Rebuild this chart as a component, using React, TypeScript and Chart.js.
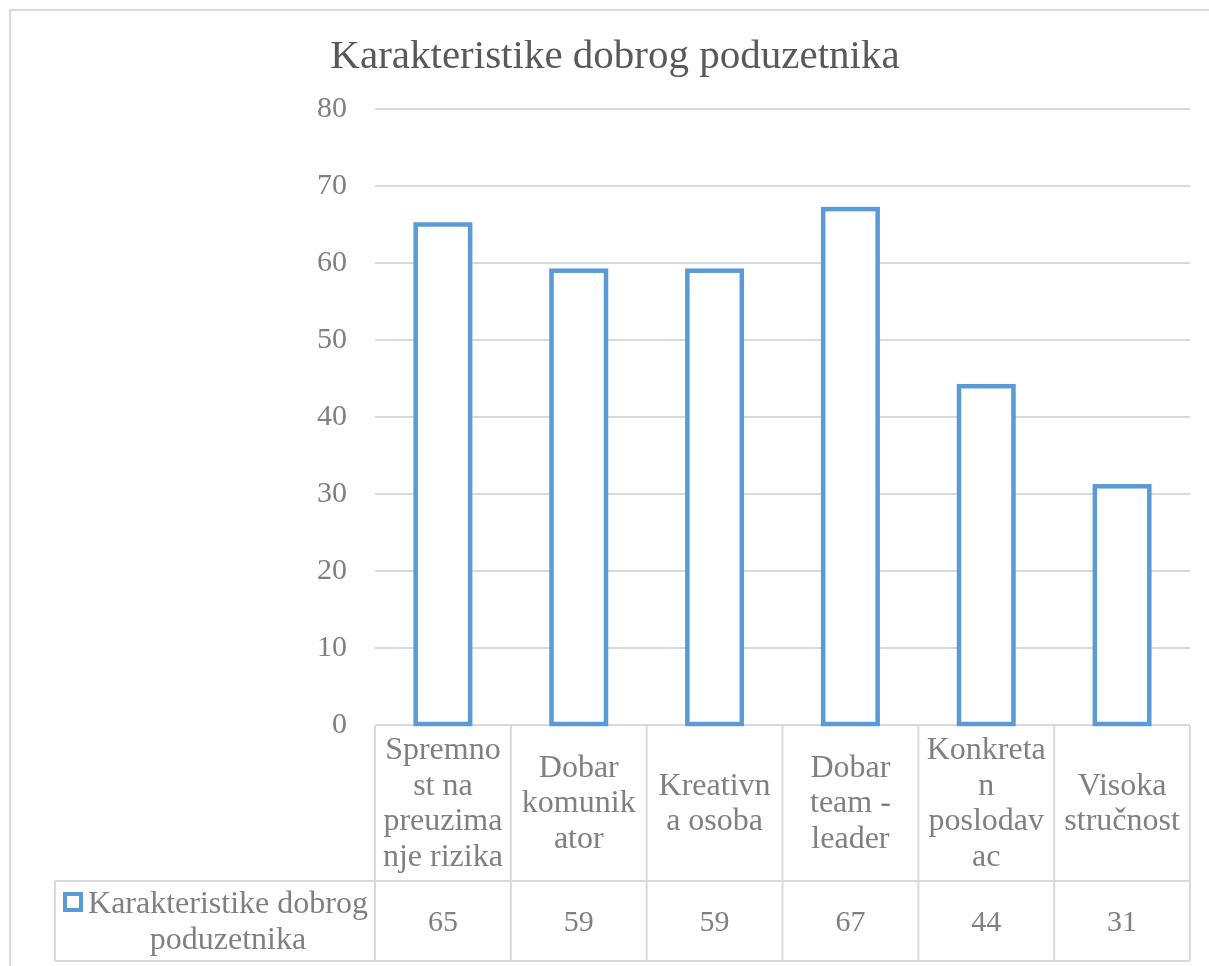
import React, { useEffect, useRef } from "react";
import { Chart, registerables } from "chart.js";

Chart.register(...registerables);

const TITLE = "Karakteristike dobrog poduzetnika";
const SERIES_NAME = "Karakteristike dobrog poduzetnika";
const CATEGORIES = [
  "Spremnost na preuzimanje rizika",
  "Dobar komunikator",
  "Kreativna osoba",
  "Dobar team - leader",
  "Konkretan poslodavac",
  "Visoka stručnost",
];
const CATEGORY_LINES = [
  ["Spremno", "st na", "preuzima", "nje rizika"],
  ["Dobar", "komunik", "ator"],
  ["Kreativn", "a osoba"],
  ["Dobar", "team -", "leader"],
  ["Konkreta", "n", "poslodav", "ac"],
  ["Visoka", "stručnost"],
];
const VALUES = [65, 59, 59, 67, 44, 31];
const LEGEND_LINES = ["Karakteristike dobrog", "poduzetnika"];
const Y_MIN = 0;
const Y_MAX = 80;
const Y_STEP = 10;

const FONT = "'Liberation Serif', 'Times New Roman', serif";
const BLUE = "#5B9BD5";
const GRID = "#D9D9D9";
const TEXT = "#808080";
const TITLE_COLOR = "#595959";

const barStrokePlugin = {
  id: "barStroke",
  afterDatasetsDraw(chart: any) {
    const { ctx } = chart;
    const meta = chart.getDatasetMeta(0);
    ctx.save();
    ctx.strokeStyle = BLUE;
    ctx.lineWidth = 4.5;
    meta.data.forEach((bar: any) => {
      const p = bar.getProps(["x", "y", "base", "width"], true);
      ctx.fillStyle = "#FFFFFF";
      ctx.fillRect(p.x - p.width / 2, p.y, p.width, p.base - p.y);
      ctx.strokeRect(p.x - p.width / 2, p.y, p.width, p.base - p.y);
    });
    ctx.restore();
  },
};

const tablePlugin = {
  id: "dataTable",
  afterDraw(chart: any) {
    const { ctx, chartArea } = chart;
    const xs = chart.scales.x;
    const n = CATEGORIES.length;
    const catW = (chartArea.right - chartArea.left) / n;
    const top = chartArea.bottom;
    const row1Bottom = top + 156;
    const row2Bottom = row1Bottom + 80;
    const legendLeft = 55;

    ctx.save();
    ctx.strokeStyle = GRID;
    ctx.lineWidth = 2;
    const line = (x1: number, y1: number, x2: number, y2: number) => {
      ctx.beginPath();
      ctx.moveTo(x1, y1);
      ctx.lineTo(x2, y2);
      ctx.stroke();
    };
    // outer chart border
    line(10, chart.height, 10, 10);
    line(10, 10, chart.width, 10);
    // table lines
    line(legendLeft, row1Bottom, chartArea.right, row1Bottom);
    line(legendLeft, row2Bottom, chartArea.right, row2Bottom);
    line(legendLeft, row1Bottom, legendLeft, row2Bottom);
    for (let i = 0; i <= n; i++) {
      const xi = chartArea.left + i * catW;
      line(xi, top + 1, xi, row2Bottom);
    }

    // title
    ctx.fillStyle = TITLE_COLOR;
    ctx.font = `41px ${FONT}`;
    ctx.textAlign = "center";
    ctx.textBaseline = "alphabetic";
    ctx.fillText(TITLE, 615, 68);

    // category labels
    ctx.fillStyle = TEXT;
    ctx.textBaseline = "middle";
    const lh = 35.5;
    const cy1 = (top + row1Bottom) / 2 + 1;
    const cy2 = (row1Bottom + row2Bottom) / 2 + 2;
    for (let i = 0; i < n; i++) {
      const cx = xs.getPixelForValue(i);
      const lines = CATEGORY_LINES[i];
      const start = cy1 - ((lines.length - 1) * lh) / 2;
      ctx.font = `32px ${FONT}`;
      lines.forEach((t, j) => ctx.fillText(t, cx, start + j * lh));
      ctx.font = `30px ${FONT}`;
      ctx.fillText(String(VALUES[i]), cx, cy2);
    }

    // legend key + series name
    ctx.strokeStyle = BLUE;
    ctx.lineWidth = 4;
    ctx.fillStyle = "#FFFFFF";
    ctx.fillRect(65, 894, 16, 16);
    ctx.strokeRect(65, 894, 16, 16);
    ctx.fillStyle = TEXT;
    ctx.font = `32px ${FONT}`;
    const lcx = 228;
    const lstart = cy2 - 18;
    LEGEND_LINES.forEach((t, j) => ctx.fillText(t, lcx, lstart + j * 36));
    ctx.restore();
  },
};

export default function App() {
  const ref = useRef<HTMLCanvasElement>(null);
  useEffect(() => {
    if (!ref.current) return;
    const chart = new Chart(ref.current, {
      type: "bar",
      data: {
        labels: CATEGORIES,
        datasets: [
          {
            label: SERIES_NAME,
            data: VALUES,
            backgroundColor: "rgba(0,0,0,0)",
            borderWidth: 0,
            barPercentage: 0.401,
            categoryPercentage: 1,
          },
        ],
      },
      options: {
        animation: false,
        responsive: false,
        layout: { padding: { top: 109, bottom: 241, left: 0, right: 19 } },
        plugins: {
          legend: { display: false },
          title: { display: false },
          tooltip: { enabled: false },
        },
        scales: {
          x: { display: false },
          y: {
            min: Y_MIN,
            max: Y_MAX,
            ticks: {
              stepSize: Y_STEP,
              color: TEXT,
              font: { family: FONT, size: 30 },
              padding: 28,
            },
            grid: { color: GRID, lineWidth: 2, drawTicks: false },
            border: { display: false },
            afterFit: (scale: any) => {
              scale.width = 375;
            },
          },
        },
      },
      plugins: [barStrokePlugin, tablePlugin],
    });
    return () => chart.destroy();
  }, []);
  return (
    <div style={{ position: "fixed", left: 0, top: 0, width: 1209, height: 966, background: "#fff" }}>
      <canvas ref={ref} width={1209} height={966} style={{ display: "block" }} />
    </div>
  );
}
